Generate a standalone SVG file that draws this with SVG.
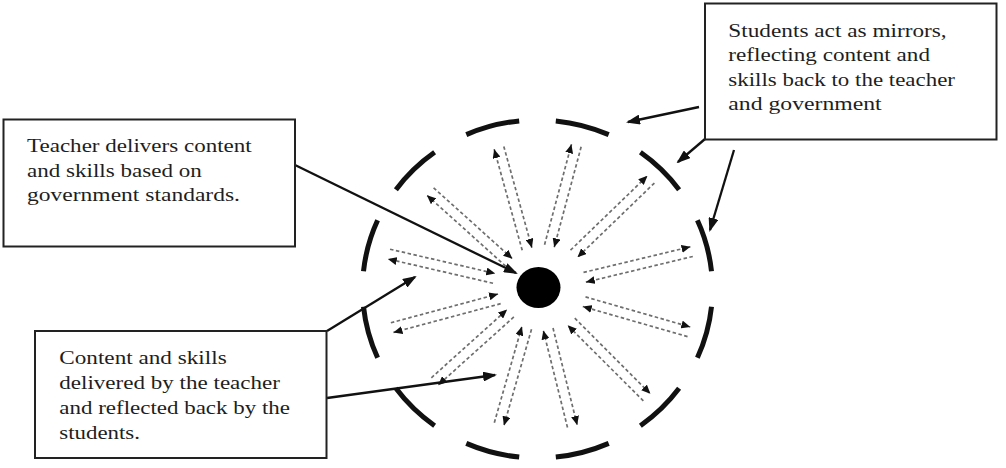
<svg xmlns="http://www.w3.org/2000/svg" width="1006" height="468" viewBox="0 0 1006 468">
<style>
.box{fill:#fff;stroke:#222;stroke-width:2}
.t{font-family:"Liberation Serif",serif;font-size:19.5px;fill:#1e1e1e}
.ring path{fill:none;stroke:#111;stroke-width:5}
.fl{stroke:#6e6e6e;stroke-width:1.7;stroke-dasharray:3.5 2.5;fill:none;marker-end:url(#sm)}
.co{stroke:#111;stroke-width:2.3;fill:none;marker-end:url(#big)}
</style>
<defs>
<marker id="sm" viewBox="0 0 9 8" refX="9" refY="4" markerWidth="9" markerHeight="8" markerUnits="userSpaceOnUse" orient="auto"><path d="M0,0 L9,4 L0,8 z" fill="#111"/></marker>
<marker id="big" viewBox="0 0 14 10" refX="12" refY="5" markerWidth="14" markerHeight="10" markerUnits="userSpaceOnUse" orient="auto"><path d="M0,0 L14,5 L0,10 z" fill="#111"/></marker>
</defs>
<rect width="1006" height="468" fill="#fff"/>
<g id="ring" class="ring">
<path d="M711.5,306.7 A175,169 0 0 1 697.4,357.7"/>
<path d="M679.1,388.3 A175,169 0 0 1 640.4,425.7"/>
<path d="M608.7,443.4 A175,169 0 0 1 555.8,457.1"/>
<path d="M519.2,457.1 A175,169 0 0 1 466.3,443.4"/>
<path d="M434.6,425.7 A175,169 0 0 1 395.9,388.3"/>
<path d="M377.6,357.7 A175,169 0 0 1 363.5,306.7"/>
<path d="M363.5,271.3 A175,169 0 0 1 377.6,220.3"/>
<path d="M395.9,189.7 A175,169 0 0 1 434.6,152.3"/>
<path d="M466.3,134.6 A175,169 0 0 1 519.2,120.9"/>
<path d="M555.8,120.9 A175,169 0 0 1 608.7,134.6"/>
<path d="M640.4,152.3 A175,169 0 0 1 679.1,189.7"/>
<path d="M697.4,220.3 A175,169 0 0 1 711.5,271.3"/>
</g>
<g id="reflections">
<g transform="rotate(-105.5 538 288.5)"><line class="fl" x1="579" y1="283.5" x2="684" y2="283.5"/><line class="fl" x1="684" y1="293.5" x2="579" y2="293.5"/></g>
<g transform="rotate(-75 538 288.5)"><line class="fl" x1="582" y1="283.5" x2="686" y2="283.5"/><line class="fl" x1="686" y1="293.5" x2="582" y2="293.5"/></g>
<g transform="rotate(-44 538 288.5)"><line class="fl" x1="588" y1="283.5" x2="695" y2="283.5"/><line class="fl" x1="695" y1="293.5" x2="588" y2="293.5"/></g>
<g transform="rotate(-13.5 538 288.5)"><line class="fl" x1="586" y1="283.5" x2="696" y2="283.5"/><line class="fl" x1="696" y1="293.5" x2="586" y2="293.5"/></g>
<g transform="rotate(16 538 288.5)"><line class="fl" x1="586" y1="283.5" x2="695" y2="283.5"/><line class="fl" x1="695" y1="293.5" x2="586" y2="293.5"/></g>
<g transform="rotate(45 538 288.5)"><line class="fl" x1="585" y1="283.5" x2="692" y2="283.5"/><line class="fl" x1="692" y1="293.5" x2="585" y2="293.5"/></g>
<g transform="rotate(76 538 288.5)"><line class="fl" x1="580" y1="283.5" x2="680" y2="283.5"/><line class="fl" x1="680" y1="293.5" x2="580" y2="293.5"/></g>
<g transform="rotate(106 538 288.5)"><line class="fl" x1="579" y1="283.5" x2="679" y2="283.5"/><line class="fl" x1="679" y1="293.5" x2="579" y2="293.5"/></g>
<g transform="rotate(138 538 288.5)"><line class="fl" x1="575" y1="283.5" x2="677" y2="283.5"/><line class="fl" x1="677" y1="293.5" x2="575" y2="293.5"/></g>
<g transform="rotate(165 538 288.5)"><line class="fl" x1="578" y1="283.5" x2="689" y2="283.5"/><line class="fl" x1="689" y1="293.5" x2="578" y2="293.5"/></g>
<g transform="rotate(-167 538 288.5)"><line class="fl" x1="583" y1="283.5" x2="691" y2="283.5"/><line class="fl" x1="691" y1="293.5" x2="583" y2="293.5"/></g>
<g transform="rotate(-138 538 288.5)"><line class="fl" x1="577" y1="283.5" x2="683" y2="283.5"/><line class="fl" x1="683" y1="293.5" x2="577" y2="293.5"/></g>
</g>
<g id="teacher-dot"><ellipse cx="538.5" cy="287.5" rx="22" ry="20.5" fill="#000"/></g>
<g id="connectors">
<line class="co" x1="295" y1="165" x2="516" y2="273"/>
<line class="co" x1="327" y1="331" x2="415" y2="277"/>
<line class="co" x1="327" y1="398" x2="495" y2="375"/>
<line class="co" x1="699" y1="107" x2="628" y2="122"/>
<line class="co" x1="705" y1="139" x2="678" y2="162"/>
<line class="co" x1="734" y1="150" x2="710" y2="230"/>
</g>
<g id="node-teacher">
<rect class="box" x="3.5" y="119.5" width="291.5" height="127"/>
<text class="t" x="27" y="151.5" textLength="224.7" lengthAdjust="spacingAndGlyphs">Teacher delivers content</text>
<text class="t" x="27" y="176.5" textLength="174.7" lengthAdjust="spacingAndGlyphs">and skills based on</text>
<text class="t" x="27" y="201" textLength="213" lengthAdjust="spacingAndGlyphs">government standards.</text>
</g>
<g id="node-students">
<rect class="box" x="705" y="3.5" width="291.5" height="136"/>
<text class="t" x="728.3" y="36.5" textLength="218.4" lengthAdjust="spacingAndGlyphs">Students act as mirrors,</text>
<text class="t" x="728.3" y="61" textLength="201.7" lengthAdjust="spacingAndGlyphs">reflecting content and</text>
<text class="t" x="728.3" y="85.5" textLength="226.7" lengthAdjust="spacingAndGlyphs">skills back to the teacher</text>
<text class="t" x="728.3" y="110" textLength="153.4" lengthAdjust="spacingAndGlyphs">and government</text>
</g>
<g id="node-content">
<rect class="box" x="35" y="331" width="291.5" height="127"/>
<text class="t" x="59.3" y="364" textLength="167.4" lengthAdjust="spacingAndGlyphs">Content and skills</text>
<text class="t" x="59.3" y="389" textLength="220.7" lengthAdjust="spacingAndGlyphs">delivered by the teacher</text>
<text class="t" x="59.3" y="414" textLength="230.7" lengthAdjust="spacingAndGlyphs">and reflected back by the</text>
<text class="t" x="59.3" y="439" textLength="80.7" lengthAdjust="spacingAndGlyphs">students.</text>
</g>
</svg>
